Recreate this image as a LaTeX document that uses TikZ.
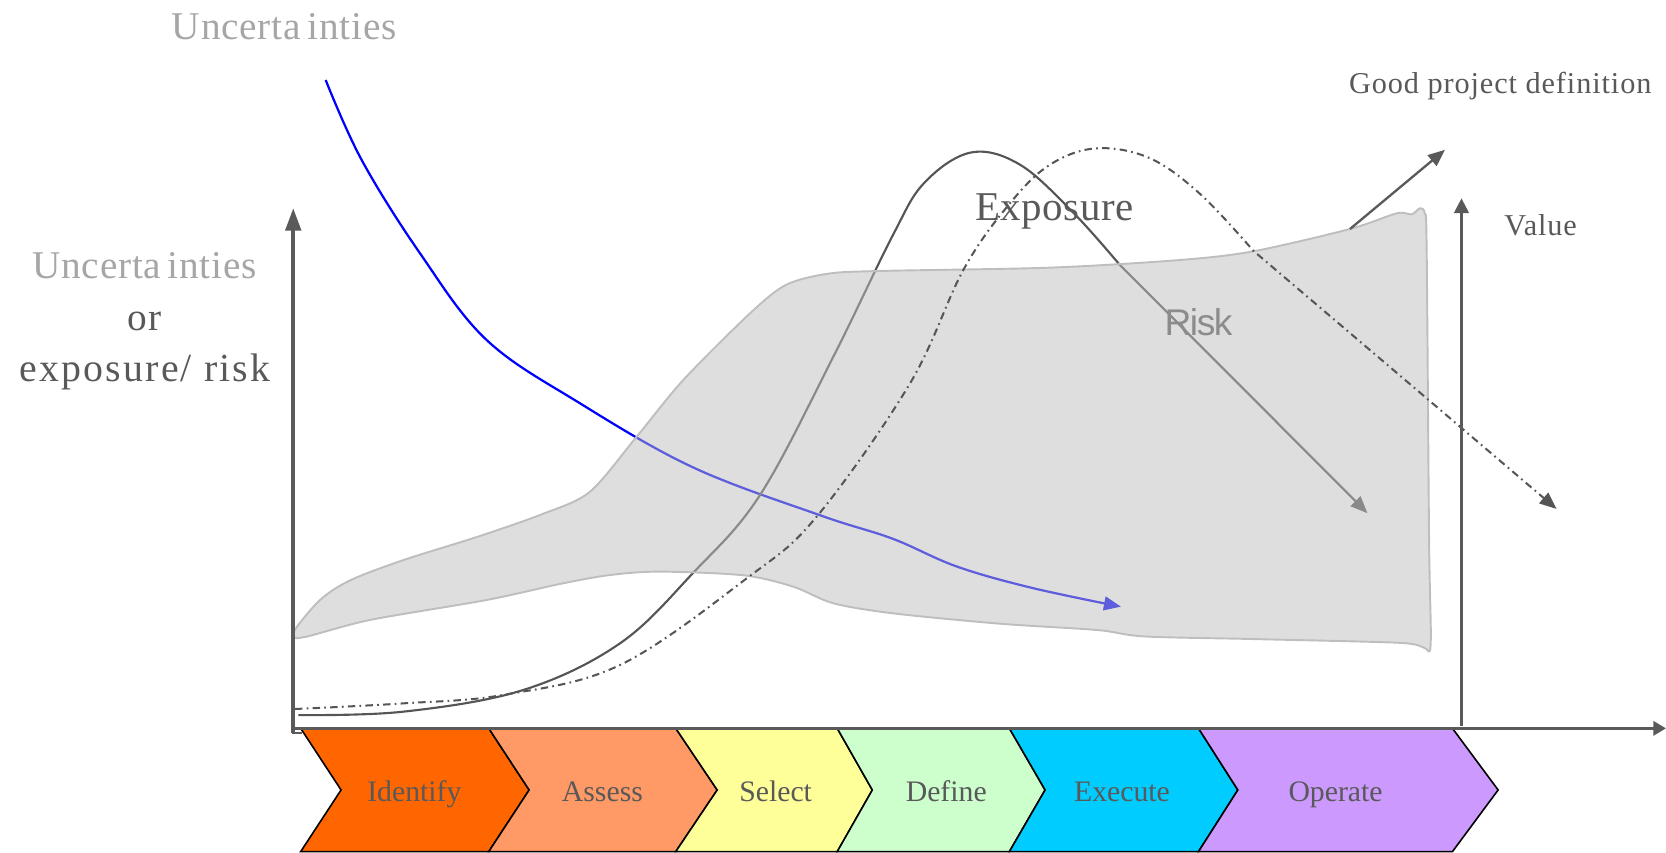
\documentclass[tikz,border=0pt]{standalone}
\usepackage{fontspec}
\setmainfont{Liberation Serif}
\newfontfamily\riskfont{Liberation Sans}
\usetikzlibrary{arrows.meta}
\definecolor{txtdark}{HTML}{595959}
\definecolor{txtlight}{HTML}{A6A6A6}
\definecolor{axisgray}{HTML}{5A5A5A}
\definecolor{cIdentify}{HTML}{FF6600}
\definecolor{cAssess}{HTML}{FF9966}
\definecolor{cSelect}{HTML}{FFFF99}
\definecolor{cDefine}{HTML}{CCFFCC}
\definecolor{cExecute}{HTML}{00CCFF}
\definecolor{cOperate}{HTML}{CC99FF}
\definecolor{blobfill}{HTML}{BDBDBD}
\definecolor{blobedge}{HTML}{BEBEBE}
\definecolor{curvegray}{HTML}{555555}
\definecolor{riskgray}{HTML}{8C8C8C}
\definecolor{uncblue}{HTML}{0000FF}
\begin{document}
\begin{tikzpicture}[x=1pt,y=-1pt,
  chev/.style={draw=black, line width=1.5pt, line join=miter},
  chevlabel/.style={anchor=base, inner sep=0pt, text=txtdark, font=\fontsize{28}{28}\selectfont},
  biglabel/.style={anchor=base, inner sep=0pt, font=\fontsize{37}{37}\selectfont\addfontfeature{LetterSpace=2}},
  smalllabel/.style={anchor=base, inner sep=0pt, text=txtdark, font=\fontsize{28.5}{28.5}\selectfont\addfontfeature{LetterSpace=3}},
  mainaxis/.style={draw=axisgray, line width=3.4pt},
  thinaxis/.style={draw=axisgray, line width=2.2pt},
  solidcurve/.style={draw=curvegray, line width=2pt},
  dashcurve/.style={draw=curvegray, line width=1.9pt, dash pattern=on 7pt off 4pt on 1.6pt off 4pt},
  bluecurve/.style={draw=uncblue, line width=2.1pt},
  blob/.style={fill=blobfill, fill opacity=0.5, draw=blobedge, draw opacity=1, line width=1.8pt}
]
\useasboundingbox (0,0) rectangle (1568,802);

% ---------- phase chevrons ----------
\def\T{685.5}\def\M{743.5}\def\B{801.5}
\draw[chev,fill=cIdentify] (283,\T)--(460,\T)--(498,\M)--(460,\B)--(283,\B)--(321,\M)--cycle;
\draw[chev,fill=cAssess] (460,\T)--(636,\T)--(675,\M)--(636,\B)--(460,\B)--(498,\M)--cycle;
\draw[chev,fill=cSelect] (636,\T)--(788,\T)--(821,\M)--(788,\B)--(636,\B)--(675,\M)--cycle;
\draw[chev,fill=cDefine] (788,\T)--(950,\T)--(983.6,\M)--(950,\B)--(788,\B)--(821,\M)--cycle;
\draw[chev,fill=cExecute] (950,\T)--(1128,\T)--(1165,\M)--(1128,\B)--(950,\B)--(983.6,\M)--cycle;
\draw[chev,fill=cOperate] (1128,\T)--(1367,\T)--(1410,\M)--(1367,\B)--(1128,\B)--(1165,\M)--cycle;

\node[chevlabel] (identify) at (390,754.5) {Identify};
\node[chevlabel] (assess) at (567,754.5) {Assess};
\node[chevlabel] (select) at (730,754.5) {Select};
\node[chevlabel] (define) at (890.6,754.5) {Define};
\node[chevlabel] (execute) at (1056,754.5) {Execute};
\node[chevlabel] (operate) at (1257,754.5) {Operate};

% ---------- uncertainties curve (blue) ----------
\coordinate (bluestart) at (306.5,75.3);
\coordinate (bluetip) at (1055,571);
\draw[bluecurve, -{Triangle[length=16pt,width=13pt]}] plot[smooth, tension=0.6] coordinates {
 (bluestart) (340.4,150.6) (395.3,238.4) (458,320) (545.9,379.6) (652.5,440)
 (772,485) (840,507) (900,533) (970,553) (bluetip)};

% ---------- exposure / risk curve (solid) ----------
\coordinate (expstart) at (280.8,673);
\coordinate (risktip) at (1287,483);
\draw[solidcurve, -{Triangle[length=16pt,width=13pt]}] plot[smooth, tension=0.6] coordinates {
 (expstart) (379.6,669.8) (492.5,649.4) (583.5,605.5) (652.5,539) (715.3,465.9)
 (784.3,335.7) (840,222) (870,172) (914,143.5) (960,155) (1010,200) (1054,249.4)} -- (risktip);

% ---------- value envelope (translucent grey) ----------
\path[blob] plot[smooth cycle, tension=0.5] coordinates {
 (275.5,596) (301.2,564.7) (330,546) (380,527) (450,505) (510,484)
 (555,463) (599.2,411) (643.1,357.6) (705.9,294.9)
 (740,268) (780,257.5) (830,255) (988.2,251.9) (1110.6,244.7)
 (1179.6,236.5) (1270.6,215.5) (1314.5,200.8) (1328.6,201.7) (1336.5,196) (1341,201)
 (1342.7,232) (1345,508) (1346.5,606) (1340,609.5) (1317,605) (1181,601.5) (1077,599)
 (1033,593) (941,587) (840.8,577.3) (784.3,567.8)
 (746.7,552.2) (700,541.5) (621.2,538) (574.1,541.2) (527,549.6)
 (458,564.7) (348.2,583.5) (285.5,599.8)};

% ---------- dash-dot curve ----------
\coordinate (dashstart) at (277.6,667.3);
\coordinate (dashtip) at (1465,479);
\draw[dashcurve, -{Triangle[length=16pt,width=13pt]}] plot[smooth, tension=0.6] coordinates {
 (dashstart) (379.6,662) (473.7,654) (583.5,625.9) (702.8,544.3) (768.6,486.3)
 (856.5,360.8) (906.7,254) (950,192) (988.2,155) (1032.2,139.6) (1082.4,149)
 (1130,183) (1179.6,236)} -- (dashtip);

% ---------- axes ----------
\coordinate (origin) at (276,690);
\coordinate (ytip) at (276,196);
\coordinate (xstart) at (276,685.5);
\coordinate (xtip) at (1568,685.5);
\draw[mainaxis, -{Triangle[length=21pt,width=14.5pt]}] (origin) -- (ytip);
\draw[draw=axisgray, line width=2pt] (274.5,689.5) -- (284,689.5);
\draw[draw=axisgray, line width=2.6pt, -{Triangle[length=12pt,width=13.5pt]}] (xstart) -- (xtip);

\coordinate (valbase) at (1375.5,683);
\coordinate (valtip) at (1375.5,186.7);
\draw[thinaxis, -{Triangle[length=14pt,width=14pt]}] (valbase) -- (valtip);

\coordinate (gpdstart) at (1270.6,215.5);
\coordinate (gpdtip) at (1360,141);
\draw[thinaxis, -{Triangle[length=16pt,width=13pt]}] (gpdstart) -- (gpdtip);

% ---------- texts ----------
\node[biglabel, text=txtlight] (unctop) at (267.5,37) {Uncerta\kern6pt inties};
\node[biglabel, text=txtlight] (uncleft) at (136,262) {Uncerta\kern6pt inties};
\node[biglabel, text=txtdark] (orlbl) at (136,310.6) {or};
\node[anchor=base, inner sep=0pt, text=txtdark, font=\fontsize{37.5}{37.5}\selectfont\addfontfeature{LetterSpace=5.5}] (exprisk) at (136.5,359) {exposure/ risk};
\node[anchor=base, inner sep=0pt, text=txtdark, font=\fontsize{38.5}{38.5}\selectfont\addfontfeature{LetterSpace=1.5}] (exposure) at (992.4,207.7) {Exposure};
\node[anchor=base, inner sep=0pt, text=riskgray, font=\riskfont\fontsize{35}{35}\selectfont\addfontfeature{LetterSpace=-4}] (risk) at (1128,315.3) {Risk};
\node[smalllabel] (gpd) at (1412,87.8) {Good project definition};
\node[smalllabel] (value) at (1450,222) {Value};
\end{tikzpicture}
\end{document}
